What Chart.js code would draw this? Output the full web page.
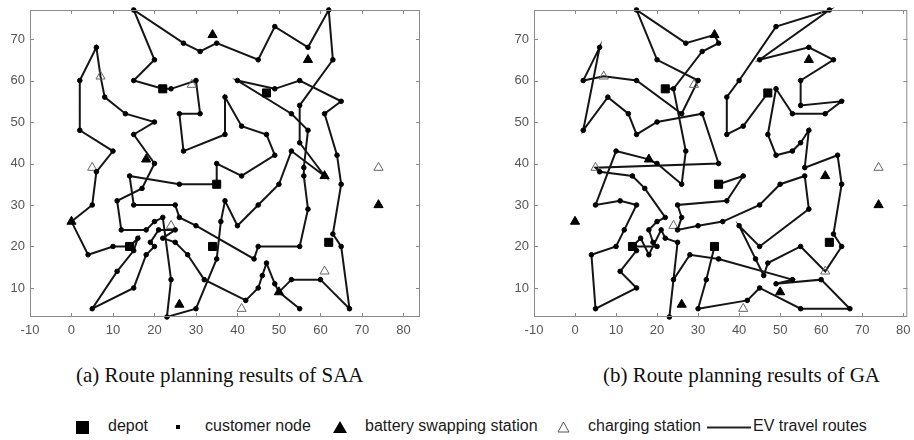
<!DOCTYPE html>
<html>
<head>
<meta charset="utf-8">
<script src="https://cdn.jsdelivr.net/npm/chart.js@4.4.1/dist/chart.umd.min.js"></script>
<style>
  body { margin: 0; background: #fff; }
  #page { position: relative; width: 914px; height: 440px; overflow: hidden; background: #fff; }
  canvas { position: absolute; top: 0; }
  #chartSAA { left: 0; }
  #chartGA { left: 500px; }
  .caption { position: absolute; top: 363px; font-family: "Liberation Serif", "Times New Roman", serif; font-size: 21px; line-height: 24px; color: #111; white-space: nowrap; }
  .lg-text { position: absolute; top: 418px; font-family: "Liberation Sans", Arial, sans-serif; font-size: 16px; line-height: 16px; color: #1a1a1a; white-space: nowrap; }
  .lg-mark { position: absolute; }
</style>
</head>
<body>
<div id="page">
  <canvas id="chartSAA" width="430" height="345"></canvas>
  <canvas id="chartGA" width="414" height="345"></canvas>

  <div class="caption" style="left:76px">(a) Route planning results of SAA</div>
  <div class="caption" style="left:603px">(b) Route planning results of GA</div>

  <svg class="lg-mark" style="left:76px;top:421px" width="13" height="13"><rect width="13" height="13" fill="#000"/></svg>
  <div class="lg-text" style="left:108px">depot</div>
  <svg class="lg-mark" style="left:176px;top:425px" width="4" height="4"><rect width="4" height="4" fill="#000"/></svg>
  <div class="lg-text" style="left:205px">customer node</div>
  <svg class="lg-mark" style="left:333px;top:421px" width="14" height="12"><polygon points="7,0 14,12 0,12" fill="#000"/></svg>
  <div class="lg-text" style="left:365px">battery swapping station</div>
  <svg class="lg-mark" style="left:557px;top:421px" width="13" height="12"><polygon points="6.5,1 12,11 1,11" fill="none" stroke="#555" stroke-width="1"/></svg>
  <div class="lg-text" style="left:588px">charging station</div>
  <svg class="lg-mark" style="left:707px;top:426px" width="44" height="3"><rect y="0.5" width="44" height="2" fill="#222"/></svg>
  <div class="lg-text" style="left:753px">EV travel routes</div>
</div>

<script>
// axis ticks
const xTicks = [-10, 0, 10, 20, 30, 40, 50, 60, 70, 80];
const yTicks = [10, 20, 30, 40, 50, 60, 70];

// facilities (same in both panels)
const depots = [[22, 58], [47, 57], [35, 35], [14, 20], [34, 20], [62, 21]];
const batteryStations = [[34, 71], [57, 65], [18, 41], [0, 26], [61, 37], [74, 30], [26, 6], [50, 9]];
const chargingStations = [[7, 61], [29, 59], [5, 39], [74, 39], [24, 25], [61, 14], [41, 5]];

const customers = [
  [15, 77], [20, 65], [15, 60], [24, 58], [30, 60], [31, 52], [26, 52], [27, 43], [37, 47], [37, 56],
  [27, 69], [31, 67], [35, 69], [6, 68], [2, 60], [2, 48], [10, 43], [8, 56], [13, 52], [20, 50],
  [15, 47], [20, 40], [62, 77], [63, 65], [57, 68], [49, 73], [45, 65], [40, 60], [49, 58], [55, 60],
  [65, 55], [61, 52], [64, 42], [55, 54], [53, 52], [57, 48], [55, 45], [53, 43], [56, 39], [56, 37],
  [41, 49], [47, 47], [49, 42], [35, 40], [6, 38], [5, 30], [4, 18], [10, 20], [15, 19], [16, 22],
  [11, 14], [5, 5], [15, 10], [18, 18], [20, 20], [19, 21], [21, 24], [22, 27], [20, 26], [18, 24],
  [12, 24], [11, 31], [17, 34], [14, 37], [26, 35], [15, 30], [25, 30], [26, 27], [30, 25], [25, 24],
  [22, 22], [25, 21], [28, 18], [32, 12], [24, 12], [23, 3], [30, 5], [35, 17], [36, 26], [37, 31],
  [41, 37], [50, 35], [45, 30], [40, 25], [57, 29], [55, 20], [45, 20], [44, 17], [63, 23], [65, 20],
  [67, 5], [65, 35], [60, 12], [53, 12], [47, 16], [46, 13], [45, 10], [49, 11], [55, 5], [42, 7]
];

// (a) SAA routes
const saaRoute1 = [[22, 58], [15, 60], [20, 65], [15, 77], [27, 69], [31, 67], [35, 69], [45, 65], [49, 73], [57, 68],
  [62, 77], [63, 65], [55, 54], [55, 45], [61, 37], [53, 43], [50, 35], [45, 30], [40, 25], [37, 31], [36, 26],
  [35, 17], [30, 5], [23, 3], [24, 12], [22, 27], [20, 26], [18, 24], [12, 24], [11, 31], [17, 34], [20, 40],
  [15, 47], [20, 50], [13, 52], [8, 56], [7, 61], [6, 68], [2, 60], [2, 48], [10, 43], [6, 38], [5, 30],
  [0, 26], [4, 18], [10, 20], [14, 20]];
const saaRoute2 = [[22, 58], [24, 58], [30, 60], [31, 52], [26, 52], [27, 43], [37, 47], [37, 56], [41, 49],
  [47, 47], [49, 42], [41, 37], [35, 40], [35, 35]];
const saaRoute3 = [[35, 35], [26, 35], [14, 37], [15, 30], [25, 30], [26, 27], [30, 25], [44, 17], [45, 20],
  [55, 20], [57, 29], [56, 37], [56, 39], [57, 48], [53, 52], [40, 60], [49, 58], [55, 60], [65, 55], [61, 52],
  [64, 42], [65, 35], [63, 23], [65, 20], [67, 5], [60, 12], [53, 12], [50, 9]];
const saaRoute4 = [[14, 20], [16, 22], [15, 19], [11, 14], [5, 5], [15, 10], [18, 18], [20, 20], [19, 21],
  [21, 24], [25, 24], [22, 22], [25, 21], [28, 18], [32, 12], [42, 7], [45, 10], [46, 13], [47, 16], [49, 11],
  [50, 9], [55, 5]];

// (b) GA routes
const gaRoute1 = [[47, 57], [41, 49], [37, 47], [37, 56], [40, 60], [49, 73], [62, 77], [45, 65], [57, 68],
  [63, 65], [55, 60], [55, 54], [65, 55], [61, 52], [53, 52], [49, 58], [47, 47], [49, 42], [53, 43], [55, 45],
  [57, 48], [56, 39], [64, 42], [65, 35], [63, 23], [65, 20], [61, 14], [55, 20], [47, 16], [46, 13], [44, 17],
  [40, 25], [45, 20], [57, 29], [56, 37], [50, 35], [45, 30], [36, 26], [30, 25], [25, 24], [26, 27], [25, 30],
  [37, 31], [41, 37], [35, 35]];
const gaRoute2 = [[22, 58], [24, 58], [31, 67], [35, 69], [34, 71], [27, 69], [15, 77], [20, 65], [30, 60],
  [26, 52], [15, 60], [7, 61], [2, 60], [6, 68], [2, 48], [8, 56], [13, 52], [15, 47], [20, 50], [31, 52],
  [35, 40], [5, 39], [6, 38], [14, 37], [17, 34], [22, 27], [20, 26], [18, 24], [19, 21], [20, 20], [14, 20]];
const gaRoute3 = [[24, 58], [27, 43], [26, 35], [20, 40], [18, 41], [10, 43], [5, 30], [11, 31], [15, 30],
  [12, 24], [10, 20], [4, 18], [5, 5], [15, 10], [11, 14], [15, 19], [14, 20]];
const gaRoute4 = [[34, 20], [32, 12], [30, 5], [42, 7], [45, 10], [55, 5], [67, 5], [60, 12], [49, 11], [53, 12],
  [35, 17], [28, 18], [24, 12], [23, 3], [25, 21], [22, 22], [21, 24], [18, 18], [16, 22], [14, 20]];

const toXY = p => ({ x: p[0], y: p[1] });

// MATLAB-like box with inward ticks
const frame = {
  id: 'frame',
  afterDatasetsDraw(chart) {
    const { ctx, chartArea: a, scales: { x, y } } = chart;
    ctx.save();
    ctx.strokeStyle = '#8a8a8a';
    ctx.lineWidth = 1;
    ctx.strokeRect(a.left + 0.5, a.top + 0.5, a.width - 1, a.height - 1);
    ctx.beginPath();
    xTicks.forEach(v => {
      const px = Math.round(x.getPixelForValue(v)) + 0.5;
      ctx.moveTo(px, a.bottom); ctx.lineTo(px, a.bottom - 4);
      ctx.moveTo(px, a.top); ctx.lineTo(px, a.top + 4);
    });
    yTicks.forEach(v => {
      const py = Math.round(y.getPixelForValue(v)) + 0.5;
      ctx.moveTo(a.left, py); ctx.lineTo(a.left + 4, py);
      ctx.moveTo(a.right, py); ctx.lineTo(a.right - 4, py);
    });
    ctx.stroke();
    ctx.restore();
  }
};

function markers(points, style, radius, fill, stroke) {
  return {
    data: points.map(toXY),
    pointStyle: style,
    pointRadius: radius,
    pointBackgroundColor: fill,
    pointBorderColor: stroke,
    pointBorderWidth: 1,
    showLine: false,
    clip: false,
    order: 0
  };
}

function makeChart(id, routes, xMax, axisWidth, padRight) {
  const datasets = [
    markers(depots, 'rect', 5.7, '#000', '#000'),
    markers(customers, 'circle', 2.3, '#000', '#000'),
    markers(batteryStations, 'triangle', 5.3, '#000', '#000'),
    markers(chargingStations, 'triangle', 5.3, 'rgba(0,0,0,0)', '#666')
  ];
  routes.forEach(r => {
    datasets.push({
      data: r.map(toXY),
      showLine: true,
      borderColor: '#151515',
      borderWidth: 2,
      pointRadius: 0,
      tension: 0,
      fill: false,
      clip: false,
      order: 1
    });
  });

  const tickFont = { family: '"Liberation Sans", Arial, sans-serif', size: 13 };

  return new Chart(document.getElementById(id), {
    type: 'scatter',
    data: { datasets: datasets },
    options: {
      responsive: false,
      animation: false,
      devicePixelRatio: 1,
      layout: { padding: { top: 10, right: padRight, left: 0, bottom: 0 } },
      plugins: { legend: { display: false }, tooltip: { enabled: false } },
      scales: {
        x: {
          type: 'linear',
          min: -10,
          max: xMax,
          afterBuildTicks: s => { s.ticks = xTicks.map(v => ({ value: v })); },
          afterFit: s => { s.height = 28; s.paddingLeft = 0; s.paddingRight = 0; },
          grid: { display: false, drawTicks: false },
          border: { display: false },
          ticks: { color: '#555', font: tickFont, padding: 6, maxRotation: 0, autoSkip: false }
        },
        y: {
          type: 'linear',
          min: 3,
          max: 77,
          afterBuildTicks: s => { s.ticks = yTicks.map(v => ({ value: v })); },
          afterFit: s => { s.width = axisWidth; s.paddingTop = 0; s.paddingBottom = 0; },
          grid: { display: false, drawTicks: false },
          border: { display: false },
          ticks: { color: '#555', font: tickFont, padding: 5, autoSkip: false }
        }
      }
    },
    plugins: [frame]
  });
}

makeChart('chartSAA', [saaRoute1, saaRoute2, saaRoute3, saaRoute4], 84, 30, 10);
makeChart('chartGA', [gaRoute1, gaRoute2, gaRoute3, gaRoute4], 81, 34, 2);
</script>
</body>
</html>
